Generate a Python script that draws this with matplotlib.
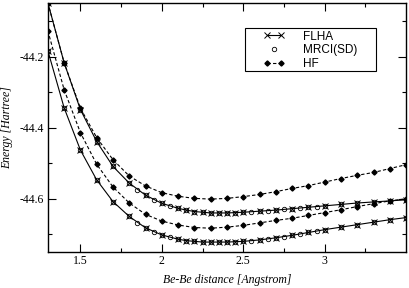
import matplotlib
matplotlib.use("Agg")
import matplotlib.pyplot as plt
from matplotlib.legend_handler import HandlerLine2D
from matplotlib.patches import Rectangle

plt.rcParams['axes.unicode_minus'] = False

# HF points, 0.1 steps
hf_x = [1.3, 1.4, 1.5, 1.6, 1.7, 1.8, 1.9, 2.0, 2.1, 2.2, 2.3, 2.4,
        2.5, 2.6, 2.7, 2.8, 2.9, 3.0, 3.1, 3.2, 3.3, 3.4, 3.5]
hf_upper = [-44.048, -44.217, -44.345, -44.428, -44.490, -44.536, -44.564, -44.583,
            -44.593, -44.599, -44.601, -44.599, -44.594, -44.588, -44.580, -44.571,
            -44.563, -44.553, -44.543, -44.534, -44.526, -44.515, -44.504]
hf_lower = [-44.127, -44.293, -44.414, -44.503, -44.567, -44.612, -44.644, -44.663,
            -44.674, -44.681, -44.683, -44.680, -44.675, -44.668, -44.661, -44.655,
            -44.647, -44.639, -44.631, -44.622, -44.614, -44.606, -44.600]

# FLHA points (denser around the minimum)
flha_x = [1.3, 1.4, 1.5, 1.6, 1.7, 1.8, 1.9, 2.0, 2.1, 2.15, 2.2, 2.25, 2.3, 2.35,
          2.4, 2.45, 2.5, 2.6, 2.7, 2.8, 2.9, 3.0, 3.1, 3.2, 3.3, 3.4, 3.5]
flha_upper = [-44.048, -44.217, -44.349, -44.439, -44.509, -44.556, -44.590, -44.613,
              -44.627, -44.632, -44.636, -44.638, -44.640, -44.640, -44.640, -44.639,
              -44.638, -44.635, -44.632, -44.628, -44.624, -44.620, -44.616, -44.612,
              -44.609, -44.606, -44.603]
flha_lower = [-44.183, -44.344, -44.463, -44.547, -44.608, -44.650, -44.682, -44.702,
              -44.714, -44.718, -44.720, -44.722, -44.722, -44.722, -44.722, -44.721,
              -44.720, -44.716, -44.710, -44.703, -44.695, -44.687, -44.680, -44.673,
              -44.666, -44.659, -44.653]

# MRCI(SD) points
mrci_x = [1.3, 1.4, 1.5, 1.6, 1.7, 1.8, 1.85, 1.9, 1.95, 2.0, 2.05, 2.1, 2.15, 2.2,
          2.25, 2.3, 2.35, 2.4, 2.45, 2.5, 2.55, 2.6, 2.65, 2.7, 2.75, 2.8, 2.85, 2.9,
          2.95, 3.0, 3.1, 3.2, 3.3, 3.4, 3.5]
mrci_upper = [-44.048, -44.217, -44.349, -44.439, -44.509, -44.556, -44.575, -44.590,
              -44.603, -44.613, -44.621, -44.627, -44.632, -44.636, -44.638, -44.640,
              -44.640, -44.640, -44.639, -44.638, -44.637, -44.635, -44.634, -44.632,
              -44.630, -44.628, -44.626, -44.624, -44.622, -44.620, -44.616, -44.612,
              -44.609, -44.606, -44.603]
mrci_lower = [-44.183, -44.344, -44.463, -44.547, -44.608, -44.650, -44.667, -44.682,
              -44.693, -44.702, -44.709, -44.714, -44.718, -44.720, -44.722, -44.722,
              -44.722, -44.722, -44.721, -44.720, -44.718, -44.716, -44.713, -44.710,
              -44.707, -44.703, -44.699, -44.695, -44.691, -44.687, -44.680, -44.673,
              -44.666, -44.659, -44.653]

serif = ['Liberation Serif', 'DejaVu Serif']
sans = ['Liberation Sans', 'DejaVu Sans']

fig = plt.figure(figsize=(4.09, 2.88), dpi=100)
ax = fig.add_axes([0.117, 0.125, 0.876, 0.863])

lw = 0.8
fl, = ax.plot(flha_x, flha_upper, '-', color='black', lw=lw, marker='x', ms=3.8,
              mew=0.7, label='FLHA')
ax.plot(flha_x, flha_lower, '-', color='black', lw=lw, marker='x', ms=3.8, mew=0.7)
mr, = ax.plot(mrci_x, mrci_upper, ls='none', marker='o', ms=3.2, mfc='none',
              mec='black', mew=0.6, label='MRCI(SD)')
ax.plot(mrci_x, mrci_lower, ls='none', marker='o', ms=3.2, mfc='none', mec='black', mew=0.6)
hf, = ax.plot(hf_x, hf_upper, '--', color='black', lw=lw, dashes=(3, 2), marker='D',
              ms=2.6, label='HF')
ax.plot(hf_x, hf_lower, '--', color='black', lw=lw, dashes=(3, 2), marker='D', ms=2.6)

ax.set_xlim(1.3, 3.5)
ax.set_ylim(-44.75, -44.05)
ax.set_xticks([1.5, 2, 2.5, 3])
ax.set_xticklabels(['1.5', '2', '2.5', '3'])
ax.set_xticks([1.75, 2.25, 2.75, 3.25], minor=True)
ax.set_yticks([-44.6, -44.4, -44.2])
ax.set_yticklabels(['-44.6', '-44.4', '-44.2'])
ax.set_yticks([-44.7, -44.5, -44.3, -44.1], minor=True)

ax.tick_params(which='both', direction='in', top=True, right=True, width=0.8)
ax.tick_params(which='major', length=6, pad=2.5)
ax.tick_params(which='minor', length=3)
for lab in ax.get_xticklabels() + ax.get_yticklabels():
    lab.set_family(serif)
    lab.set_fontsize(8.5)
for sp in ax.spines.values():
    sp.set_linewidth(1.0)

ax.set_xlabel('Be-Be distance [Angstrom]', family=serif, style='italic', fontsize=8.5,
              labelpad=5)
ax.set_ylabel('Energy [Hartree]', family=serif, style='italic', fontsize=8.5, labelpad=5)

# legend box drawn separately so the padding matches the original
leg = ax.legend(handles=[fl, mr, hf], loc='upper left', bbox_to_anchor=(0.601, 0.891),
                numpoints=2, handler_map={mr: HandlerLine2D(numpoints=1)},
                prop={'family': sans, 'size': 8.5}, frameon=False,
                handlelength=1.8, handletextpad=1.6, labelspacing=0.14,
                borderpad=0, borderaxespad=0)
ax.add_patch(Rectangle((0.550, 0.728), 0.366, 0.173, transform=ax.transAxes,
                       fill=False, edgecolor='black', lw=0.8, zorder=5))

fig.savefig('out.png', dpi=100)
